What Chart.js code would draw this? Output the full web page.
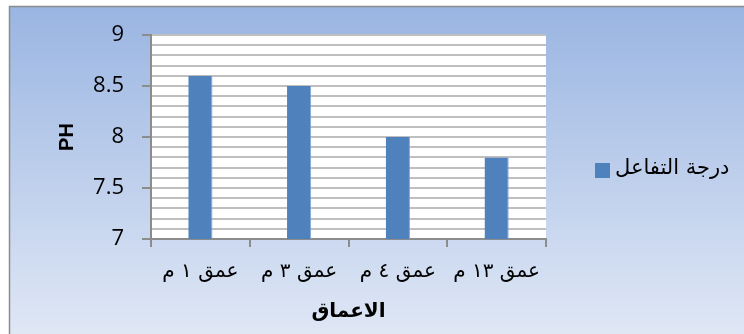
<!DOCTYPE html>
<html>
<head>
<meta charset="utf-8">
<script src="https://cdn.jsdelivr.net/npm/chart.js@4/dist/chart.umd.min.js"></script>
<style>
html,body{margin:0;padding:0;background:#fff;}
#wrap{width:744px;height:334px;position:relative;}
</style>
</head>
<body>
<div id="wrap"><canvas id="c" width="744" height="334"></canvas></div>
<script>
const categories = ["عمق ١ م", "عمق ٣ م", "عمق ٤ م", "عمق ١٣ م"];
const phValues = [8.6, 8.5, 8.0, 7.8];
const seriesName = "درجة التفاعل";
const yTicks = [7, 7.5, 8, 8.5, 9];
const xTitle = "الاعماق";
const yTitle = "PH";

const bgPlugin = {
  id: 'bg',
  beforeDraw(chart) {
    const ctx = chart.ctx;
    const g = ctx.createLinearGradient(0, 6, 0, 334);
    g.addColorStop(0, '#9ab5e2');
    g.addColorStop(1, '#dfe7f5');
    ctx.save();
    ctx.fillStyle = g;
    ctx.fillRect(9, 6, 735, 328);
    ctx.strokeStyle = '#8c8c8c';
    ctx.lineWidth = 1.5;
    ctx.beginPath();
    ctx.moveTo(9.5, 334);
    ctx.lineTo(9.5, 6.5);
    ctx.lineTo(744, 6.5);
    ctx.stroke();
    const a = chart.chartArea;
    ctx.fillStyle = '#ffffff';
    ctx.fillRect(a.left, a.top, a.right - a.left, a.bottom - a.top);
    ctx.restore();
  },
  afterDraw(chart) {
    const ctx = chart.ctx;
    const ds = chart.data.datasets[0];
    ctx.save();
    ctx.fillStyle = ds.backgroundColor;
    ctx.fillRect(595, 163, 15, 15);
    ctx.fillStyle = '#000';
    ctx.font = '21px "DejaVu Sans"';
    ctx.textBaseline = 'middle';
    ctx.direction = 'rtl';
    ctx.textAlign = 'right';
    const w = ctx.measureText(ds.label).width;
    ctx.fillText(ds.label, 615 + w, 169);
    ctx.restore();
  }
};

new Chart(document.getElementById('c'), {
  type: 'bar',
  data: {
    labels: categories,
    datasets: [{
      label: seriesName,
      data: phValues,
      backgroundColor: '#4f81bd',
      borderColor: '#7fa6d8',
      borderWidth: { right: 1, left: 0, top: 0, bottom: 0 },
      categoryPercentage: 1,
      barPercentage: 0.245
    }]
  },
  options: {
    responsive: false,
    animation: false,
    layout: { padding: { left: 0, top: 35, right: 198, bottom: 0 } },
    plugins: { legend: { display: false }, tooltip: { enabled: false } },
    scales: {
      x: {
        grid: { display: true, drawOnChartArea: false, color: '#8c8c8c', tickLength: 8, offset: true, lineWidth: 2 },
        border: { color: '#8c8c8c', width: 2 },
        ticks: { color: '#000', font: { family: '"DejaVu Sans"', size: 20 }, padding: 13, maxRotation: 0 },
        title: { display: true, text: xTitle, color: '#000', font: { family: '"DejaVu Sans"', size: 20, weight: 'bold' }, padding: { top: 0, bottom: 10 } },
        afterFit(s) { s.height = 95; }
      },
      y: {
        min: 7, max: 9,
        afterBuildTicks(s) { s.ticks = yTicks.map(v => ({ value: v })); },
        grid: { color: '#8c8c8c', tickLength: 9, lineWidth: 2 },
        border: { color: '#8c8c8c', width: 2 },
        ticks: { color: '#000', font: { family: '"Open Sans"', size: 22 }, padding: 18, callback: v => String(v) },
        title: { display: true, text: yTitle, color: '#000', font: { family: '"Liberation Sans"', size: 20, weight: 'bold' }, padding: { top: 55 } },
        afterFit(s) { s.width = 151; }
      },
      yMinor: {
        position: 'left', display: true, min: 7, max: 9,
        afterBuildTicks(s) { const t = []; for (let i = 0; i <= 20; i++) t.push({ value: 7 + i * 0.1 }); s.ticks = t; },
        grid: { color: '#bfbfbf', lineWidth: 2, drawTicks: false },
        border: { display: false },
        ticks: { display: false },
        afterFit(s) { s.width = 0; }
      }
    }
  },
  plugins: [bgPlugin]
});
</script>
</body>
</html>
